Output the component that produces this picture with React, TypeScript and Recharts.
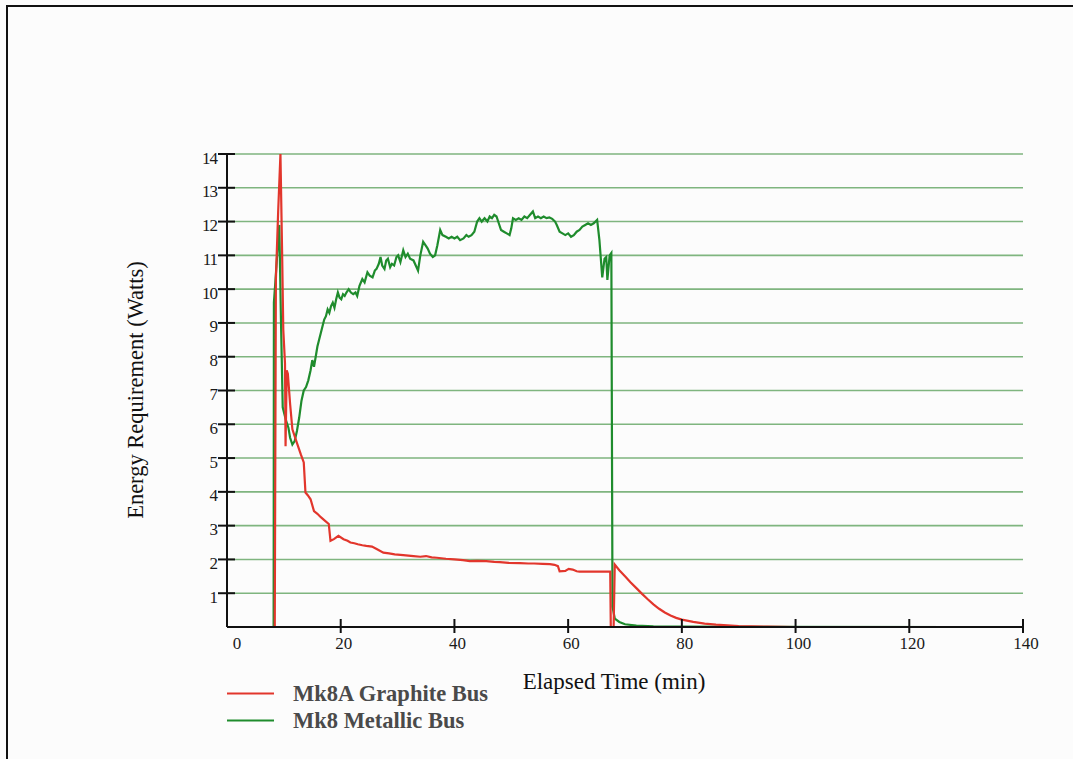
import React from 'react';
import { LineChart, Line, XAxis, YAxis, CartesianGrid, Legend } from 'recharts';

// ---------- data ----------
const seriesNames = ['Mk8A Graphite Bus', 'Mk8 Metallic Bus'];
const xTicks = [0, 20, 40, 60, 80, 100, 120, 140];
const yTicks = [0, 1, 2, 3, 4, 5, 6, 7, 8, 9, 10, 11, 12, 13, 14];
const xLabel = 'Elapsed Time (min)';
const yLabel = 'Energy Requirement (Watts)';

const graphiteTime = [
  8.4, 8.6, 9.0, 9.4, 9.7, 9.9, 10.2, 10.3, 10.5, 10.7, 11.1, 11.5, 12.0, 12.4, 13.0, 13.5, 13.8,
  14.2, 14.7, 15.3, 15.9, 16.5, 17.2, 17.9, 18.2, 18.8, 19.6, 20.5, 21.2, 21.7, 22.4, 23.0, 23.8,
  24.5, 25.5, 26.4, 27.5, 28.5, 29.5, 31.0, 32.8, 34.0, 35.0, 36.0, 36.9, 38.5, 40.0, 41.5, 42.7,
  44.0, 45.6, 47.0, 48.0, 49.5, 51.5, 53.0, 54.0, 55.5, 56.8, 57.6, 58.2, 58.5, 59.5, 60.1, 60.8,
  61.5, 62.0, 64.0, 67.4, 67.5, 68.0, 68.2, 69.0, 70.0, 71.0, 72.0, 73.0, 74.0, 75.0, 76.0, 77.0,
  78.0, 79.0, 80.0, 82.0, 84.0, 86.0, 90.0, 95.0, 100.0,
];
const graphiteWatts = [
  0, 10.3, 12.3, 14.0, 11.0, 8.8, 7.8, 5.35, 7.6, 7.5, 6.6, 5.85, 5.6, 5.4, 5.1, 4.87, 3.98,
  3.9, 3.78, 3.43, 3.35, 3.25, 3.15, 3.05, 2.55, 2.6, 2.7, 2.6, 2.55, 2.5, 2.48, 2.45, 2.42,
  2.4, 2.38, 2.3, 2.2, 2.18, 2.15, 2.13, 2.1, 2.08, 2.1, 2.06, 2.05, 2.02, 2.0, 1.98, 1.95,
  1.96, 1.95, 1.93, 1.92, 1.9, 1.89, 1.88, 1.88, 1.87, 1.86, 1.84, 1.8, 1.65, 1.66, 1.72, 1.7,
  1.65, 1.64, 1.64, 1.64, 0, 0, 1.85, 1.68, 1.5, 1.32, 1.15, 0.98, 0.82, 0.67, 0.54, 0.43,
  0.34, 0.27, 0.22, 0.15, 0.1, 0.07, 0.03, 0.01, 0,
];

const metallicTime = [
  8.2, 8.25, 8.5, 8.9, 9.2, 9.5, 9.8, 10.1, 10.4, 10.8, 11.1, 11.5, 11.9, 12.3, 12.7, 13.1,
  13.5, 13.9, 14.3, 14.7, 15.0, 15.3, 15.6, 15.9, 16.2, 16.5, 16.8, 17.1, 17.4, 17.7, 18.0,
  18.3, 18.6, 18.9, 19.2, 19.5, 19.8, 20.1, 20.4, 20.7, 21.0, 21.4, 21.8, 22.2, 22.6, 22.9,
  23.3, 23.8, 24.2, 24.7, 25.1, 25.6, 26.0, 26.3, 26.7, 27.0, 27.3, 27.7, 28.0, 28.3, 28.7,
  29.0, 29.4, 29.8, 30.1, 30.5, 31.0, 31.4, 31.8, 32.2, 32.8, 33.2, 33.6, 34.0, 34.5, 34.9,
  35.3, 35.7, 36.2, 36.6, 37.0, 37.5, 37.9, 38.5, 39.0, 39.5, 40.0, 40.5, 41.0, 41.6, 42.1,
  42.5, 43.0, 43.5, 44.0, 44.4, 44.8, 45.3, 45.8, 46.2, 46.6, 47.0, 47.4, 47.8, 48.2, 48.7,
  49.2, 49.7, 50.0, 50.3, 50.8, 51.3, 51.8, 52.3, 52.8, 53.3, 53.8, 54.2, 54.7, 55.2, 55.7,
  56.2, 56.7, 57.2, 57.7, 58.0, 58.5, 59.0, 59.5, 60.0, 60.5, 61.0, 61.5, 62.0, 62.5, 63.0,
  63.5, 64.0, 64.5, 65.1, 65.5, 66.0, 66.4, 66.7, 66.9, 67.3, 67.6, 67.8, 68.2, 69.0, 70.0,
  72.0, 75.0, 80.0, 128.0,
];
const metallicWatts = [
  0, 9.6, 10.2, 11.2, 11.9, 9.0, 6.5, 6.3, 6.1, 5.9, 5.6, 5.4, 5.5, 5.8, 6.2, 6.7,
  7.0, 7.1, 7.3, 7.6, 7.9, 7.7, 8.0, 8.3, 8.5, 8.7, 8.9, 9.1, 9.2, 9.4, 9.3,
  9.5, 9.6, 9.45, 9.7, 9.9, 9.75, 9.7, 9.85, 9.8, 9.9, 10.0, 9.9, 9.85, 9.9, 9.8,
  10.1, 10.3, 10.2, 10.5, 10.4, 10.35, 10.55, 10.6, 10.75, 10.95, 10.7, 10.6, 10.85, 10.9, 10.65,
  10.75, 10.7, 10.95, 11.0, 10.8, 11.15, 10.95, 11.05, 10.9, 10.85, 10.7, 10.55, 11.0, 11.4, 11.3,
  11.2, 11.05, 10.95, 11.0, 11.3, 11.75, 11.6, 11.55, 11.5, 11.55, 11.5, 11.55, 11.45, 11.5, 11.6,
  11.55, 11.6, 11.7, 12.0, 12.1, 12.0, 12.1, 12.0, 12.15, 12.1, 12.2, 12.15, 11.95, 11.75, 11.7,
  11.65, 11.6, 11.8, 12.1, 12.05, 12.1, 12.05, 12.15, 12.1, 12.2, 12.3, 12.1, 12.15, 12.1, 12.15,
  12.1, 12.12, 12.08, 12.0, 11.9, 11.7, 11.65, 11.6, 11.65, 11.55, 11.6, 11.7, 11.75, 11.85, 11.9,
  11.95, 11.9, 11.95, 12.05, 11.45, 10.35, 10.9, 10.95, 10.27, 11.0, 11.07, 0.6, 0.25, 0.15, 0.08,
  0.04, 0.02, 0.01, 0,
];

const graphiteData = graphiteTime.map((t, i) => ({ t, w: graphiteWatts[i] }));
const metallicData = metallicTime.map((t, i) => ({ t, w: metallicWatts[i] }));

// ---------- style ----------
const SERIF = '"Liberation Serif", "Times New Roman", "DejaVu Serif", serif';
const RED = '#e2362c';
const GREEN = '#1f8c2d';
const GRID = '#7fb57f';
const AXIS = '#111';
const W = 1073;
const H = 759;
const PLOT_LEFT = 227;
const PLOT_RIGHT = 1023;
const PLOT_TOP = 154;
const PLOT_BOTTOM = 627;
const Y_AXIS_W = 60;
const X_AXIS_H = 30;
const seriesColors = [RED, GREEN];

const XTick = (props: any) => {
  const { x, payload } = props;
  const v = payload.value;
  return (
    <g>
      {v !== 0 && (
        <line x1={x} x2={x} y1={PLOT_BOTTOM - 8} y2={PLOT_BOTTOM + 6} stroke={AXIS} strokeWidth={2} />
      )}
      <text
        x={v === 0 ? x + 10 : x + 3}
        y={PLOT_BOTTOM + 16}
        textAnchor="middle"
        dominantBaseline="central"
        fontFamily={SERIF}
        fontSize={17}
        fill="#1a1a1a"
      >
        {v}
      </text>
    </g>
  );
};

const YTick = (props: any) => {
  const { y, payload } = props;
  const v = payload.value;
  if (v === 0) return <g />;
  return (
    <g>
      <line x1={PLOT_LEFT - 9} x2={PLOT_LEFT + 8} y1={y} y2={y} stroke={AXIS} strokeWidth={2} />
      <text
        x={PLOT_LEFT - 10}
        y={y + 4}
        textAnchor="end"
        dominantBaseline="central"
        fontFamily={SERIF}
        fontSize={17}
        fill="#1a1a1a"
        letterSpacing={-1}
      >
        {v}
      </text>
    </g>
  );
};

const renderLegend = () => (
  <div
    style={{
      fontFamily: SERIF,
      fontWeight: 'bold',
      fontSize: 22.5,
      color: '#4a4a4a',
      lineHeight: '27px',
    }}
  >
    {seriesNames.map((name, i) => (
      <div key={name} style={{ display: 'flex', alignItems: 'center', height: 27, whiteSpace: 'nowrap' }}>
        <svg width={66} height={27} style={{ display: 'block', flex: 'none' }}>
          <line x1={0} x2={47} y1={13.5} y2={13.5} stroke={seriesColors[i]} strokeWidth={2} />
        </svg>
        <span>{name}</span>
      </div>
    ))}
  </div>
);

export default function App() {
  return (
    <div
      style={{
        position: 'absolute',
        left: 0,
        top: 0,
        width: W,
        height: H,
        overflow: 'hidden',
        background: '#fcfcfc',
      }}
    >
      <div
        style={{
          position: 'absolute',
          left: 6,
          top: 5,
          width: W,
          height: H,
          borderTop: '2px solid #111',
          borderLeft: '2px solid #111',
        }}
      />
      <div style={{ position: 'absolute', left: 0, top: 0 }}>
        <LineChart
          width={W}
          height={H}
          margin={{
            left: PLOT_LEFT - Y_AXIS_W,
            right: W - PLOT_RIGHT,
            top: PLOT_TOP,
            bottom: H - PLOT_BOTTOM - X_AXIS_H,
          }}
        >
          <CartesianGrid horizontal vertical={false} stroke={GRID} strokeWidth={1.6} />
          <XAxis
            type="number"
            dataKey="t"
            domain={[0, 140]}
            ticks={xTicks}
            allowDataOverflow
            height={X_AXIS_H}
            axisLine={{ stroke: AXIS, strokeWidth: 2 }}
            tickLine={false}
            tick={(p: any) => <XTick {...p} />}
            label={{
              content: () => (
                <text
                  x={614}
                  y={681}
                  textAnchor="middle"
                  dominantBaseline="central"
                  fontFamily={SERIF}
                  fontSize={23}
                  fill="#111"
                >
                  {xLabel}
                </text>
              ),
            }}
          />
          <YAxis
            type="number"
            dataKey="w"
            domain={[0, 14]}
            ticks={yTicks}
            interval={0}
            width={Y_AXIS_W}
            axisLine={{ stroke: AXIS, strokeWidth: 2 }}
            tickLine={false}
            tick={(p: any) => <YTick {...p} />}
            label={{
              content: () => (
                <text
                  x={135}
                  y={390}
                  transform="rotate(-90 135 390)"
                  textAnchor="middle"
                  dominantBaseline="central"
                  fontFamily={SERIF}
                  fontSize={22.5}
                  fill="#111"
                >
                  {yLabel}
                </text>
              ),
            }}
          />
          <Legend
            layout="horizontal"
            verticalAlign="middle"
            align="center"
            content={renderLegend}
            wrapperStyle={{ left: PLOT_LEFT, top: 680, width: 320 }}
          />
          <Line
            data={metallicData}
            dataKey="w"
            name={seriesNames[1]}
            type="linear"
            stroke={GREEN}
            strokeWidth={2.2}
            dot={false}
            activeDot={false}
            isAnimationActive={false}
          />
          <Line
            data={graphiteData}
            dataKey="w"
            name={seriesNames[0]}
            type="linear"
            stroke={RED}
            strokeWidth={2.2}
            dot={false}
            activeDot={false}
            isAnimationActive={false}
          />
        </LineChart>
      </div>
    </div>
  );
}
